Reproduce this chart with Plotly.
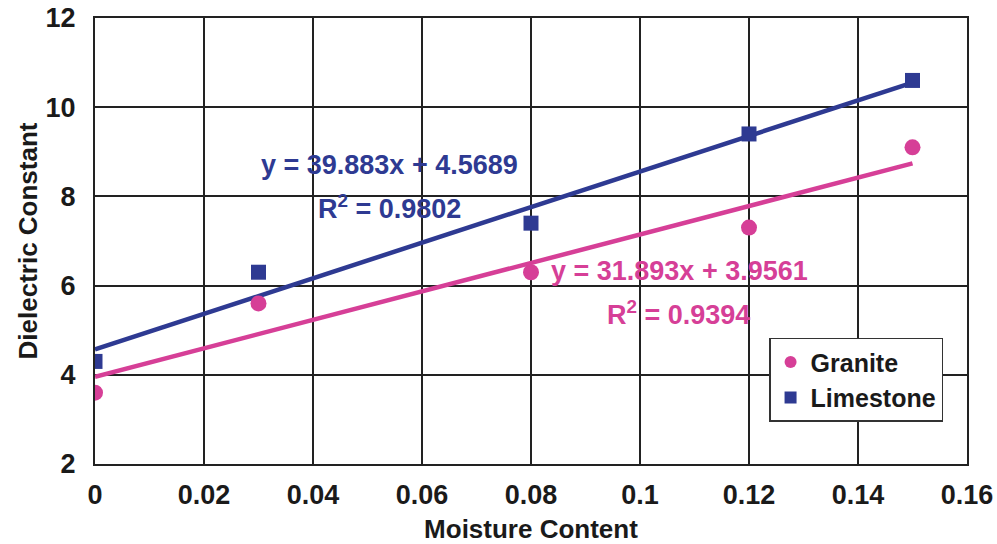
import numpy as np
import plotly.graph_objects as go

moisture = [0, 0.03, 0.08, 0.12, 0.15]
granite = [3.6, 5.6, 6.3, 7.3, 9.1]
limestone = [4.3, 6.3, 7.4, 9.4, 10.6]
x_ticks = [0, 0.02, 0.04, 0.06, 0.08, 0.1, 0.12, 0.14, 0.16]
x_tick_labels = ["0", "0.02", "0.04", "0.06", "0.08", "0.1", "0.12", "0.14", "0.16"]
y_ticks = [2, 4, 6, 8, 10, 12]

PINK = "#D63F97"
BLUE = "#2E3A92"
FONT = "Liberation Sans, Arial, sans-serif"

def fit(x, y):
    m, b = np.polyfit(x, y, 1)
    yp = np.polyval([m, b], x)
    r2 = 1 - np.sum((np.array(y) - yp) ** 2) / np.sum((np.array(y) - np.mean(y)) ** 2)
    return m, b, r2

mg, bg, r2g = fit(moisture, granite)
ml, bl, r2l = fit(moisture, limestone)
xl = [min(moisture), max(moisture)]

fig = go.Figure()
fig.add_trace(go.Scatter(x=xl, y=[ml * v + bl for v in xl], mode="lines",
                         line=dict(color=BLUE, width=4.5), showlegend=False, hoverinfo="skip"))
fig.add_trace(go.Scatter(x=xl, y=[mg * v + bg for v in xl], mode="lines",
                         line=dict(color=PINK, width=4.5), showlegend=False, hoverinfo="skip"))
fig.add_trace(go.Scatter(x=moisture, y=granite, mode="markers", name="<b>Granite</b>",
                         marker=dict(symbol="circle", size=16, color=PINK)))
fig.add_trace(go.Scatter(x=moisture, y=limestone, mode="markers", name="<b>Limestone</b>",
                         marker=dict(symbol="square", size=15, color=BLUE)))

ann_font = dict(family=FONT, size=27, color=BLUE)
fig.add_annotation(x=0.0541, y=8.7, text=f"<b>y = {ml:.3f}x + {bl:.4f}</b>", showarrow=False,
                   font=ann_font, xanchor="center", yanchor="middle")
fig.add_annotation(x=0.0541, y=7.76, text=f"<b>R<sup>2</sup> = {r2l:.4f}</b>", showarrow=False,
                   font=ann_font, xanchor="center", yanchor="middle")
ann_font2 = dict(family=FONT, size=27, color=PINK)
fig.add_annotation(x=0.1072, y=6.33, text=f"<b>y = {mg:.3f}x + {bg:.4f}</b>", showarrow=False,
                   font=ann_font2, xanchor="center", yanchor="middle")
fig.add_annotation(x=0.1071, y=5.39, text=f"<b>R<sup>2</sup> = {r2g:.4f}</b>", showarrow=False,
                   font=ann_font2, xanchor="center", yanchor="middle")

axis_common = dict(showgrid=True, gridcolor="#222222", gridwidth=1.5,
                   showline=True, linecolor="#222222", linewidth=2, mirror=True,
                   zeroline=False, ticks="", automargin=False,
                   tickfont=dict(family=FONT, size=27, color="#1a1a1a"))
fig.update_xaxes(range=[0, 0.16], tickvals=x_ticks, ticktext=[f"<b>{t}</b>" for t in x_tick_labels],
                 title=dict(text="<b>Moisture Content</b>", font=dict(family=FONT, size=26, color="#1a1a1a"), standoff=10),
                 ticklabelstandoff=6, **axis_common)
fig.update_yaxes(range=[2, 12], tickvals=y_ticks, ticktext=[f"<b>{v}</b>" for v in y_ticks],
                 title=dict(text="<b>Dielectric Constant</b>", font=dict(family=FONT, size=26, color="#1a1a1a"), standoff=0),
                 ticklabelstandoff=12, **axis_common)

fig.update_layout(
    width=997, height=544,
    margin=dict(l=95, r=30, t=18, b=80),
    paper_bgcolor="white", plot_bgcolor="white",
    font=dict(family=FONT, color="#1a1a1a"),
    legend=dict(x=0.773, y=0.283, xanchor="left", yanchor="top",
                bgcolor="white", bordercolor="#333333", borderwidth=1.5,
                font=dict(family=FONT, size=25, color="#1a1a1a"),
                itemsizing="constant", tracegroupgap=0, itemwidth=30),
)

fig.write_html("out.html")
